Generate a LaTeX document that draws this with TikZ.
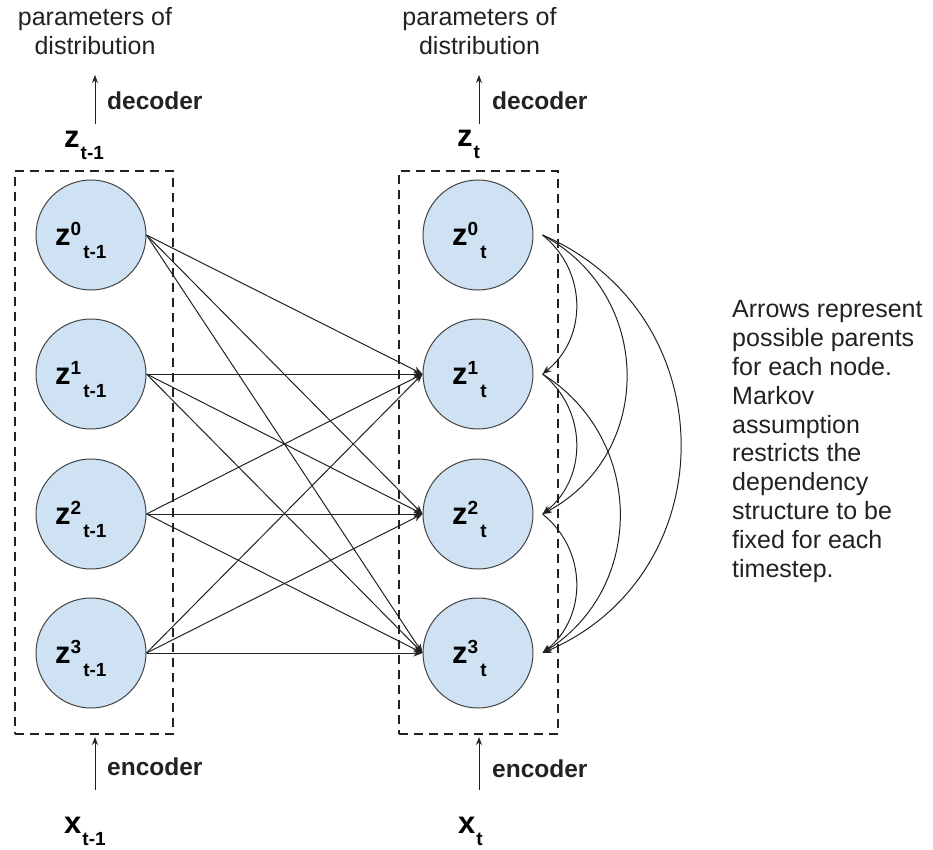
\documentclass[tikz,border=0pt]{standalone}
\usepackage{fontspec}
\setmainfont{Liberation Sans}
\usetikzlibrary{arrows.meta,calc}

\definecolor{nodefill}{HTML}{CFE2F3}
\definecolor{ink}{HTML}{222222}

% latent unit: bold z with a superscript index and a time subscript
\newcommand{\latvar}[2]{{\bfseries\fontsize{31}{31}\selectfont z}{\bfseries\fontsize{19}{19}\selectfont\raisebox{10pt}{#1}\hspace{2pt}\raisebox{-13pt}{#2}}}
% layer/input symbol with a time subscript
\newcommand{\seqvar}[2]{{\bfseries\fontsize{31}{31}\selectfont #1}{\bfseries\fontsize{19}{19}\selectfont\hspace{1pt}\raisebox{-12pt}{#2}}}

\tikzset{
  latent/.style={circle, draw=ink!85, line width=1pt, fill=nodefill,
                 minimum size=110pt, inner sep=0pt},
  frame/.style={draw=ink, line width=2pt, dash pattern=on 9pt off 6pt,
                inner sep=0pt},
  edge/.style={draw=ink, line width=1pt, -{Stealth[length=9pt,width=7pt]}},
  flow/.style={draw=ink, line width=1pt, -{Stealth[length=8pt,width=6pt]}},
  lab/.style={inner sep=0pt, anchor=base west},
  body/.style={inner sep=0pt, text=ink, font=\fontsize{25}{28.9}\selectfont},
  tag/.style={inner sep=0pt, anchor=base west, text=ink,
              font=\bfseries\fontsize{24.5}{28}\selectfont},
}

\begin{document}
\begin{tikzpicture}[x=1pt, y=-1pt]
\useasboundingbox (0,0) rectangle (933,850);

% dashed frames around the two time slices
\node[frame, minimum width=158pt, minimum height=563pt] (boxa) at (94,452.5) {};
\node[frame, minimum width=159pt, minimum height=563pt] (boxb) at (478.5,452.5) {};

% latent units at t-1 (a) and t (b)
\foreach \i/\y in {0/235,1/374,2/514,3/653}{
  \node[latent] (a\i) at (91,\y) {};
  \node[latent] (b\i) at (478,\y) {};
  \coordinate (p\i) at ($(b\i.east)+(9,0)$);
}
\node[lab] (la0) at (55,245) {\latvar{0}{t-1}};
\node[lab] (la1) at (55,384) {\latvar{1}{t-1}};
\node[lab] (la2) at (55,524) {\latvar{2}{t-1}};
\node[lab] (la3) at (55,663) {\latvar{3}{t-1}};
\node[lab] (lb0) at (452,245) {\latvar{0}{t}};
\node[lab] (lb1) at (452,384) {\latvar{1}{t}};
\node[lab] (lb2) at (452,524) {\latvar{2}{t}};
\node[lab] (lb3) at (452,663) {\latvar{3}{t}};

% transitions from t-1 to t
\foreach \i in {0,1,2,3}{
  \foreach \j in {1,2,3}{
    \draw[edge] (a\i.east) -- (b\j.west);
  }
}

% dependencies within slice t
\draw[edge] (p0) .. controls +(45,36) and +(45,-36) .. (p1);
\draw[edge] (p1) .. controls +(45,36) and +(45,-36) .. (p2);
\draw[edge] (p2) .. controls +(45,36) and +(45,-36) .. (p3);
\draw[edge] (p0) .. controls +(112,60) and +(112,-60) .. (p2);
\draw[edge] (p1) .. controls +(103,65) and +(103,-65) .. (p3);
\draw[edge] (p0) .. controls +(184,79) and +(184,-79) .. (p3);

% slice titles
\node[lab] (za) at (64,148) {\seqvar{z}{t-1}};
\node[lab] (zb) at (457,147) {\seqvar{z}{t}};

% decoders
\node[body, align=center, anchor=south] (pa) at (95,55) {parameters of\\distribution};
\node[body, align=center, anchor=south] (pb) at (479.5,55) {parameters of\\distribution};
\coordinate (da0) at (95,124);  \coordinate (da1) at (95,75);
\coordinate (db0) at (479,124); \coordinate (db1) at (479,75);
\draw[flow] (da0) -- (da1);
\draw[flow] (db0) -- (db1);
\node[tag] (deca) at (107,110) {decoder};
\node[tag] (decb) at (492,110) {decoder};

% encoders
\coordinate (ea) at (95,790);
\coordinate (eb) at (479,790);
\draw[flow, shorten >=2pt] (ea) -- (ea |- boxa.south);
\draw[flow, shorten >=2pt] (eb) -- (eb |- boxb.south);
\node[tag] (enca) at (107,775) {encoder};
\node[tag] (encb) at (492,777) {encoder};

% observations
\node[lab] (xa) at (64,833) {\seqvar{x}{t-1}};
\node[lab] (xb) at (458,833) {\seqvar{x}{t}};

% note
\node[body, align=left, anchor=north west] (note) at (732,300)
  {Arrows represent\\possible parents\\for each node.\\Markov\\assumption\\restricts the\\dependency\\structure to be\\fixed for each\\timestep.};
\end{tikzpicture}
\end{document}
